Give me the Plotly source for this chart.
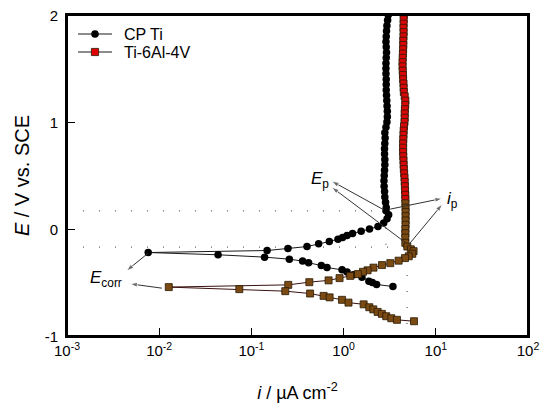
import math
import plotly.graph_objects as go

# Potentiodynamic polarisation curves
# (ordered from the top of the passive region down to the cathodic end)
cp_E = [2.00, 1.95, 1.90, 1.85, 1.80, 1.75, 1.70, 1.65, 1.60, 1.55, 1.50, 1.45,
        1.40, 1.35, 1.30, 1.25, 1.20, 1.15, 1.10, 1.05, 1.00, 0.95, 0.90, 0.85,
        0.80, 0.75, 0.70, 0.65, 0.60, 0.55, 0.50, 0.45, 0.40, 0.35, 0.30, 0.25,
        0.20, 0.17, 0.133, 0.095, 0.055, 0.023, 0.0, -0.020, -0.042, -0.061,
        -0.080, -0.095, -0.117, -0.138, -0.164, -0.182, -0.201, -0.220, -0.241,
        -0.263, -0.282, -0.300, -0.316, -0.341, -0.360, -0.382, -0.403, -0.428,
        -0.450, -0.488, -0.500, -0.518, -0.538]
cp_i = [3.05, 3.00, 2.95, 2.92, 2.90, 2.88, 2.90, 2.92, 2.90, 2.88, 2.88, 2.88,
        2.90, 2.90, 2.90, 2.92, 2.94, 2.96, 2.98, 2.98, 2.95, 2.88, 2.80, 2.82,
        2.80, 2.78, 2.78, 2.80, 2.80, 2.78, 2.76, 2.74, 2.75, 2.78, 2.80, 2.85,
        2.90, 2.88, 3.08, 2.96, 2.72, 2.36, 1.91, 1.55, 1.25, 1.09,
        0.975, 0.869, 0.70, 0.536, 0.401, 0.249, 0.148, 0.0076, 0.0435,
        0.139, 0.258, 0.359, 0.417, 0.573, 0.661, 0.962, 1.09, 1.28,
        1.58, 1.88, 2.05, 2.28, 3.43]

ti64_E = [2.00, 1.96, 1.92, 1.88, 1.84, 1.80, 1.76, 1.72, 1.68, 1.64, 1.60, 1.56,
          1.52, 1.48, 1.44, 1.40, 1.36, 1.32, 1.28, 1.24, 1.20, 1.16, 1.12, 1.08,
          1.04, 1.00, 0.96, 0.92, 0.88, 0.84, 0.80, 0.76, 0.72, 0.68, 0.64, 0.60,
          0.56, 0.52, 0.48, 0.44, 0.40, 0.36, 0.32, 0.28, 0.24, 0.20, 0.16, 0.12,
          0.08, 0.04, 0.00, -0.04, -0.08, -0.129, -0.164, -0.190, -0.207, -0.232,
          -0.255, -0.272, -0.296, -0.319, -0.337, -0.361, -0.386, -0.400, -0.421,
          -0.438, -0.459, -0.480, -0.497, -0.522, -0.543, -0.562, -0.581, -0.603,
          -0.625, -0.639, -0.662, -0.688, -0.704, -0.731, -0.751, -0.775, -0.793,
          -0.815, -0.834, -0.849, -0.862]
ti64_i = [4.50, 4.48, 4.48, 4.46, 4.48, 4.46, 4.44, 4.44, 4.42, 4.40, 4.38, 4.36,
          4.36, 4.38, 4.40, 4.42, 4.46, 4.48, 4.50, 4.60, 4.68, 4.66, 4.62, 4.60,
          4.60, 4.58, 4.52, 4.48, 4.46, 4.44, 4.42, 4.42, 4.42, 4.44, 4.46, 4.48,
          4.50, 4.54, 4.58, 4.60, 4.62, 4.64, 4.66, 4.68, 4.68, 4.70, 4.70, 4.70,
          4.70, 4.70, 4.68, 4.68, 4.67, 4.67, 4.91, 5.36, 5.74, 5.56,
          5.09, 4.63, 3.95, 3.21, 2.61, 2.11, 1.82, 1.62, 1.43,
          1.18, 0.904, 0.687, 0.425, 0.251, 0.0127, 0.074, 0.233, 0.433,
          0.607, 0.705, 0.962, 1.13, 1.65, 1.90, 2.10, 2.34, 2.60,
          2.90, 3.29, 3.79, 5.80]

# passivation potentials / currents marked with dotted guides
Ep = [0.17, -0.17]
ip = [2.88, 4.88]

x_ticks = [1e-3, 1e-2, 1e-1, 1e0, 1e1, 1e2]
x_labels = ["10<sup>-3</sup>", "10<sup>-2</sup>", "10<sup>-1</sup>",
            "10<sup>0</sup>", "10<sup>1</sup>", "10<sup>2</sup>"]
y_ticks = [-1, 0, 1, 2]
y_labels = ["-1", "0", "1", "2"]

series_names = ["CP Ti", "Ti-6Al-4V"]

fig = go.Figure()

# dotted guide lines
dot = dict(color="#666666", width=1.3, dash="1px,15px")
fig.add_trace(go.Scatter(x=[1e-3, ip[0], ip[0]], y=[Ep[0], Ep[0], Ep[1]],
                         mode="lines", line=dot, showlegend=False, hoverinfo="skip"))
fig.add_trace(go.Scatter(x=[1e-3, ip[1], ip[1]], y=[Ep[1], Ep[1], -1],
                         mode="lines", line=dot, showlegend=False, hoverinfo="skip"))

fig.add_trace(go.Scatter(
    x=cp_i, y=cp_E, mode="lines+markers", name=series_names[0], showlegend=False,
    line=dict(color="#1a1a1a", width=1),
    marker=dict(symbol="circle", size=7.5, color="black")))

ti_colors = ["#d80808" if e > 0.25 else "#7a4a12" for e in ti64_E]
fig.add_trace(go.Scatter(
    x=ti64_i, y=ti64_E, mode="lines+markers", name=series_names[1], showlegend=False,
    line=dict(color="#3a1010", width=1),
    marker=dict(symbol="square", size=7, color=ti_colors,
                line=dict(color="#2a1a05", width=0.8))))

# arrows: (tail, head) in data units, drawn as short lines with arrow markers
arrows = [
    ((2.72, 0.18), (0.74, 0.448)),
    ((4.67, -0.126), (0.74, 0.392)),
    ((3.21, 0.186), (11.8, 0.286)),
    ((5.07, -0.148), (11.8, 0.233)),
    ((0.0076, -0.225), (0.0044, -0.392)),
    ((0.0107, -0.553), (0.0048, -0.512)),
]
for (tx, ty), (hx, hy) in arrows:
    fig.add_trace(go.Scatter(
        x=[tx, hx], y=[ty, hy], mode="lines+markers", showlegend=False,
        hoverinfo="skip", line=dict(color="#333333", width=1),
        marker=dict(symbol="arrow", size=[0, 8], angleref="previous",
                    color="#333333")))

labels = [("<i>E</i><sub>p</sub>", 0.558, 0.46),
          ("<i>i</i><sub>p</sub>", 15.1, 0.273),
          ("<i>E</i><sub>corr</sub>", 0.00267, -0.466)]
for txt, lx, ly in labels:
    fig.add_annotation(x=math.log10(lx), y=ly, text=txt,
                       showarrow=False, font=dict(size=17, color="black"))

# hand-made legend box (tighter rows than plotly's own legend)
PW, PH = 461, 321          # plot area size in px


def px(dx):
    return dx / PW


def py(dy):
    return 1 - dy / PH


for k, name in enumerate(series_names):
    yc = py(19 + 18 * k)
    fig.add_shape(type="line", xref="paper", yref="paper",
                  x0=px(11), x1=px(45), y0=yc, y1=yc,
                  line=dict(color="#1a1a1a", width=1))
    if k == 0:
        fig.add_shape(type="circle", xref="paper", yref="paper",
                      x0=px(28 - 3.8), x1=px(28 + 3.8),
                      y0=yc - 3.8 / PH, y1=yc + 3.8 / PH,
                      fillcolor="black", line=dict(color="black", width=0))
    else:
        fig.add_shape(type="rect", xref="paper", yref="paper",
                      x0=px(28 - 3.6), x1=px(28 + 3.6),
                      y0=yc - 3.6 / PH, y1=yc + 3.6 / PH,
                      fillcolor="#e00000", line=dict(color="#2a1a05", width=0.8))
    fig.add_annotation(xref="paper", yref="paper", x=px(55), y=yc, text=name,
                       xanchor="left", yanchor="middle", showarrow=False,
                       font=dict(size=16, color="black"))

# plot frame
fig.add_shape(type="rect", xref="paper", yref="paper", x0=0, x1=1, y0=0, y1=1,
              line=dict(color="black", width=2), layer="above")

axis_common = dict(showline=True, linewidth=2, linecolor="black", mirror=True,
                   ticks="inside", ticklen=8, tickwidth=1.2, tickcolor="black",
                   showgrid=False, zeroline=False, automargin=False,
                   ticklabeloverflow="allow",
                   tickfont=dict(size=15, color="black"))

# page body adds an 8 px offset, margins compensate for it
fig.update_layout(
    width=550, height=411,
    margin=dict(l=59, r=30, t=7, b=83),
    paper_bgcolor="white", plot_bgcolor="white",
    font=dict(family="Liberation Sans, Arial, sans-serif", color="black"),
    showlegend=False,
    xaxis=dict(type="log", range=[-3, 2], tickvals=x_ticks, ticktext=x_labels,
               title=dict(text="<i>i</i> / µA cm<sup>-2</sup>", font=dict(size=18),
                          standoff=28),
               **axis_common),
    yaxis=dict(range=[-1, 2], tickvals=y_ticks, ticktext=y_labels,
               ticklabelshift=1, ticklabelstandoff=4,
               title=dict(text="<i>E</i> / V vs. SCE", font=dict(size=20),
                          standoff=10),
               **axis_common),
)

fig.write_html("out.html")
